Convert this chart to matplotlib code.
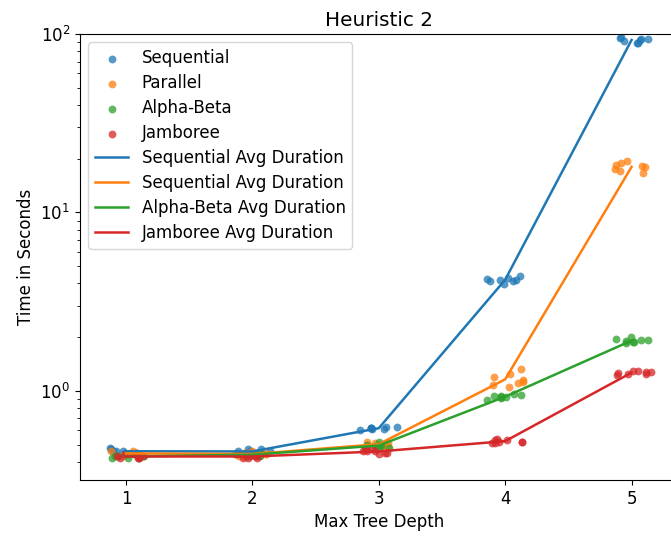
import numpy as np
import matplotlib.pyplot as plt

depths = [1, 2, 3, 4, 5]

# timings (seconds) per depth
sequential = {1: [0.48, 0.46, 0.45, 0.44, 0.47, 0.46, 0.45, 0.46],
              2: [0.45, 0.46, 0.47, 0.44, 0.46, 0.45, 0.47, 0.46],
              3: [0.62, 0.61, 0.63, 0.62, 0.60, 0.63, 0.62, 0.61],
              4: [4.40, 4.30, 3.95, 4.20, 4.25, 4.15, 4.20, 4.10],
              5: [89.0, 93.5, 95.0, 89.0, 91.0, 94.0, 92.0, 96.0]}
parallel = {1: [0.44, 0.45, 0.46, 0.44, 0.43, 0.45, 0.44, 0.46],
            2: [0.44, 0.45, 0.46, 0.43, 0.44, 0.45, 0.44, 0.43],
            3: [0.50, 0.51, 0.49, 0.52, 0.50, 0.49, 0.51, 0.50],
            4: [1.33, 1.20, 1.10, 1.08, 1.12, 1.25, 1.05, 1.15],
            5: [18.2, 16.6, 17.5, 19.4, 18.5, 17.0, 18.8, 17.9]}
alpha_beta = {1: [0.42, 0.43, 0.44, 0.42, 0.43, 0.44, 0.43, 0.42],
              2: [0.43, 0.44, 0.45, 0.43, 0.44, 0.43, 0.45, 0.44],
              3: [0.49, 0.50, 0.52, 0.48, 0.49, 0.50, 0.48, 0.49],
              4: [0.89, 0.92, 0.94, 0.96, 0.91, 0.93, 0.95, 0.92],
              5: [1.85, 1.90, 2.00, 1.95, 1.88, 1.92, 1.87, 1.93]}
jamboree = {1: [0.43, 0.42, 0.44, 0.43, 0.42, 0.43, 0.44, 0.42],
            2: [0.42, 0.43, 0.44, 0.42, 0.43, 0.44, 0.43, 0.42],
            3: [0.45, 0.46, 0.47, 0.44, 0.46, 0.45, 0.47, 0.46],
            4: [0.52, 0.53, 0.51, 0.54, 0.52, 0.51, 0.53, 0.52],
            5: [1.22, 1.25, 1.30, 1.28, 1.27, 1.26, 1.29, 1.25]}

series = [("Sequential", sequential, "tab:blue"),
          ("Parallel", parallel, "tab:orange"),
          ("Alpha-Beta", alpha_beta, "tab:green"),
          ("Jamboree", jamboree, "tab:red")]
# the original labels both first lines "Sequential Avg Duration"
line_labels = ["Sequential Avg Duration", "Sequential Avg Duration",
               "Alpha-Beta Avg Duration", "Jamboree Avg Duration"]

fig = plt.figure(figsize=(6.71, 5.38), dpi=100)
ax = fig.add_axes([0.119, 0.108, 0.891, 0.829])

rng = np.random.default_rng(3)
for name, data, color in series:
    xs, ys = [], []
    for d in depths:
        for v in data[d]:
            xs.append(d + rng.uniform(-0.15, 0.15))
            ys.append(v)
    ax.scatter(xs, ys, s=32, color=color, alpha=0.75, linewidths=0, label=name)

for (name, data, color), lab in zip(series, line_labels):
    means = [np.mean(data[d]) for d in depths]
    ax.plot(depths, means, color=color, linewidth=1.8, label=lab)

ax.set_yscale("log")
ax.set_ylim(0.317, 100)
ax.set_xlim(0.635, 5.365)
ax.set_xticks(depths)
ax.tick_params(labelsize=12)
ax.set_title("Heuristic 2", fontsize=14.4)
ax.set_xlabel("Max Tree Depth", fontsize=12)
ax.set_ylabel("Time in Seconds", fontsize=12)
ax.legend(loc="upper left", fontsize=12, labelspacing=0.42)

plt.savefig("out.png")
